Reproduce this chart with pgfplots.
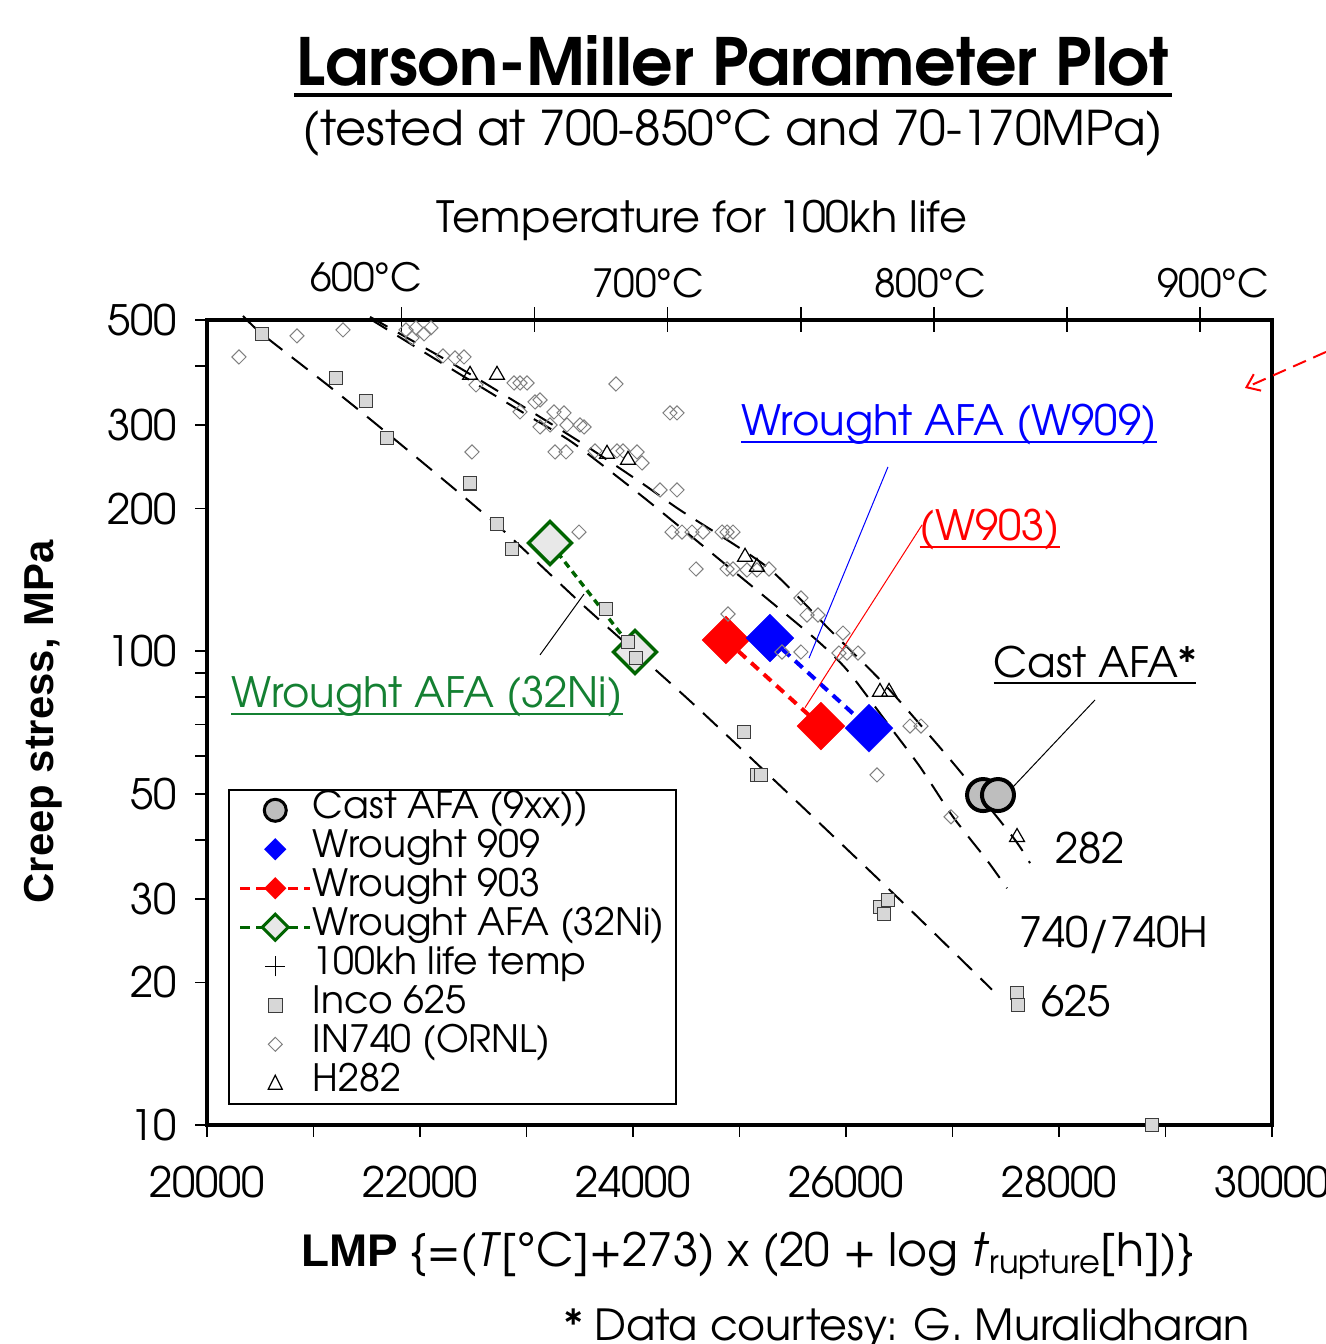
\documentclass[border=0pt]{standalone}
\usepackage{fontspec}
\setmainfont{TeX Gyre Adventor}
\newfontfamily\arialfont{Liberation Sans}
\usepackage{pgfplots}
\pgfplotsset{compat=1.18}
\usetikzlibrary{arrows.meta}

\definecolor{incofill}{RGB}{215,215,215}
\definecolor{incoedge}{RGB}{60,60,60}
\definecolor{ingray}{RGB}{128,128,128}
\definecolor{castfill}{RGB}{190,190,190}
\definecolor{afagreen}{RGB}{0,100,0}
\definecolor{labgreen}{RGB}{20,128,50}
\definecolor{afafill}{RGB}{232,232,232}

\newcommand\fs[1]{\fontsize{#1}{#1}\selectfont}
\newlength\ulw
\newcommand\ul[1]{\settowidth{\ulw}{#1}\rlap{\rule[-3.5bp]{\ulw}{1bp}}#1}

\pgfplotsset{
  curve/.style={black, line width=1bp, dash pattern=on 10bp off 6bp, smooth, tension=0.4, no markers},
  inco/.style={only marks, mark=square*, mark size=3.3bp,
    mark options={fill=incofill, draw=incoedge, line width=0.7bp}},
  in740/.style={only marks, mark=square, mark size=2.5bp,
    mark options={rotate=45, draw=ingray, fill=white, line width=0.5bp}},
  h282/.style={only marks, mark=triangle, mark size=4.3bp,
    mark options={draw=black, fill=white, line width=0.6bp}},
}

\begin{document}
\begin{tikzpicture}
\useasboundingbox (-103.5bp,-109.5bp) rectangle (559.5bp,562.5bp);
\clip (-103.5bp,-109.5bp) rectangle (559.5bp,562.5bp);

% top axis: temperature for 100kh life, LMP = (T+273)*25
\begin{axis}[ymode=log, scale only axis, width=532.5bp, height=402.5bp,
  xmin=20000, xmax=30000, ymin=10, ymax=500, scaled x ticks=false,
  axis x line*=top, axis y line=none,
  xtick={21825,23075,24325,25575,26825,28075,29325},
  xticklabels={}, tick align=center, major tick length=12.5bp,
  tick style={black, line width=0.8bp},
  axis line style={line width=2.2bp}]
\addplot[draw=none] coordinates {(25000,100)};
\end{axis}

\begin{axis}[ymode=log, scale only axis, width=532.5bp, height=402.5bp,
  xmin=20000, xmax=30000, ymin=10, ymax=500, scaled x ticks=false,
  clip=false,
  axis line style={line width=2.2bp},
  tick pos=left, tick align=outside, major tick length=6bp,
  tick style={black, line width=0.8bp},
  xtick={20000,21000,...,30000},
  xticklabels={20000,,22000,,24000,,26000,,28000,,30000},
  ytick={10,20,30,40,50,60,70,80,90,100,200,300,400,500},
  yticklabels={10,20,30,,50,,,,,100,200,300,,500},
  ticklabel style={font=\fs{21}},
  xticklabel style={yshift=-11bp},
  yticklabel style={xshift=-5.5bp},
  legend style={at={(rel axis cs:0.0197,0.4174)}, anchor=north west,
    draw=black, line width=0.8bp, font=\fs{18.9},
    inner xsep=5bp, inner ysep=0.5bp, row sep=0bp,
    nodes={inner sep=0.5bp, text height=13.5bp, text depth=5bp}},
  legend cell align=left,
]
% legend entries
\addlegendimage{legend image code/.code={\draw[black, line width=1.5bp, fill=castfill] (17.5bp,0bp) circle (5.5bp);}}
\addlegendentry{Cast AFA (9xx))}
\addlegendimage{legend image code/.code={\draw[blue, fill=blue] (17.5bp,5bp) -- (22.5bp,0bp) -- (17.5bp,-5bp) -- (12.5bp,0bp) -- cycle;}}
\addlegendentry{Wrought 909}
\addlegendimage{legend image code/.code={\draw[red, line width=1.5bp, dash pattern=on 5bp off 3bp] (0bp,0bp) -- (35bp,0bp);
  \draw[red, fill=red] (17.5bp,5bp) -- (22.5bp,0bp) -- (17.5bp,-5bp) -- (12.5bp,0bp) -- cycle;}}
\addlegendentry{Wrought 903}
\addlegendimage{legend image code/.code={\draw[afagreen, line width=1.5bp, dash pattern=on 5bp off 3bp] (0bp,0bp) -- (35bp,0bp);
  \draw[afagreen, fill=afafill, line width=1.5bp] (17.5bp,6.5bp) -- (24bp,0bp) -- (17.5bp,-6.5bp) -- (11bp,0bp) -- cycle;}}
\addlegendentry{Wrought AFA (32Ni)}
\addlegendimage{legend image code/.code={\draw[black, line width=0.7bp] (12.5bp,0bp) -- (22.5bp,0bp) (17.5bp,-5bp) -- (17.5bp,5bp);}}
\addlegendentry{100kh life temp}
\addlegendimage{legend image code/.code={\draw[incoedge, fill=incofill, line width=0.7bp] (14bp,-3.5bp) rectangle (21bp,3.5bp);}}
\addlegendentry{Inco 625}
\addlegendimage{legend image code/.code={\draw[ingray, fill=white, line width=0.5bp] (17.5bp,3.5bp) -- (21bp,0bp) -- (17.5bp,-3.5bp) -- (14bp,0bp) -- cycle;}}
\addlegendentry{IN740 (ORNL)}
\addlegendimage{legend image code/.code={\draw[black, fill=white, line width=0.6bp] (14bp,-3bp) -- (21bp,-3bp) -- (17.5bp,4bp) -- cycle;}}
\addlegendentry{H282}

% Wrought AFA (32Ni)
\addplot[forget plot, afagreen, line width=1.7bp, dash pattern=on 3.5bp off 2.5bp,
  mark=square*, mark size=7.6bp, mark options={solid, rotate=45, fill=afafill, draw=afagreen, line width=1.7bp}]
  coordinates {(23221,169.2) (24019,99.6)};
% Wrought 903
\addplot[forget plot, red, line width=2bp, dash pattern=on 5bp off 3.5bp,
  mark=square*, mark size=8.5bp, mark options={solid, rotate=45, fill=red, draw=red, line width=0.1bp}]
  coordinates {(24873,105.6) (25765,69.5)};
% Wrought 909
\addplot[forget plot, blue, line width=2bp, dash pattern=on 5bp off 3.5bp,
  mark=square*, mark size=8.5bp, mark options={solid, rotate=45, fill=blue, draw=blue, line width=0.1bp}]
  coordinates {(25286,106.6) (26216,68.8)};
% Cast AFA
\addplot[forget plot, only marks, mark=*, mark size=8bp,
  mark options={fill=castfill, draw=black, line width=2bp}]
  coordinates {(27287,49.7) (27427,49.7)};

% fitted curves: 625, 740/740H, 282
\addplot[forget plot, curve] coordinates {
  (20338,509.9) (20516,467.3) (21155,361.2) (21690,288.7) (22723,184.7)
  (23549,124.0) (24629,75.1) (26413,31.3) (27371,19.3)};
\addplot[forget plot, curve] coordinates {
  (21531,502.5) (22310,392.2) (23005,315.1) (23437,275.1) (24094,211.6)
  (24817,155.8) (25690,107.2) (26009,91.3) (26385,70.6) (26695,57.0)
  (27005,44.7) (27324,36.2) (27512,31.6)};
\addplot[forget plot, curve] coordinates {
  (21531,507.5) (22310,403.8) (23005,324.5) (23531,273.8) (24094,225.4)
  (24441,198.6) (25258,150.6) (25850,110.8) (26385,84.0) (27005,58.1)
  (27568,40.5) (27728,35.7)};

% Inco 625
\addplot[forget plot, inco] coordinates {
  (20516,467.3) (21211,377) (21493,337) (21690,282) (22469,226)
  (22723,185.6) (22864,164.3) (23746,122.8) (23953,104.6) (24028,96.7)
  (25042,67.5) (25164,54.8) (25202,54.8) (26319,28.84) (26394,29.85)
  (26357,27.9) (27606,19.0) (27615,17.9) (28873,10)};
% IN740 (ORNL)
\addplot[forget plot, in740] coordinates {
  (20300,417.8) (20845,462.8) (21277,476.4) (21869,476.4) (21962,481.2)
  (22038,467.3) (22103,481.2) (21925,458.2) (22216,419.9) (22329,415.8)
  (22413,417.8) (23840,366.4) (22883,368.2) (22939,368.2) (23005,368.2)
  (22526,364.7) (22488,263.3) (23127,339.0) (23080,335.7) (22939,319.8)
  (23258,319.8) (23352,318.3) (23221,300.2) (23127,297.3) (23380,300.2)
  (23502,300.2) (23540,297.3) (23268,263.3) (23371,263.3) (23643,264.6)
  (23850,264.6) (23906,264.6) (24038,263.3) (24085,249.6) (24347,318.3)
  (24413,318.3) (23493,178.4) (24254,218.9) (24413,218.9) (24366,178.4)
  (24460,178.4) (24554,178.4) (24657,178.4) (24836,178.4) (24883,178.4)
  (24939,178.4) (24592,149.1) (24883,149.1) (24939,149.1) (25070,148.4)
  (25164,148.4) (25277,149.1) (25577,129.5) (25634,119.2) (25737,119.2)
  (24892,119.8) (25399,99.6) (25577,99.6) (25972,109.2) (25934,99.1)
  (26009,99.1) (26113,99.1) (26601,69.5) (26704,69.5) (26291,54.8)
  (26986,44.7)};
% H282
\addplot[forget plot, h282] coordinates {
  (22470,382.8) (22723,382.8) (23756,260.8) (23953,253.3) (25052,158.1)
  (25164,150.6) (26319,82.0) (26404,82.0) (27606,40.5)};

% call-outs
\draw[blue, line width=0.5bp] (axis cs:26394,244.8) -- (axis cs:25653,96.7);
\draw[red, line width=0.5bp] (axis cs:26714,184.7) -- (axis cs:25615,76);
\draw[black, line width=0.5bp] (axis cs:28338,78.9) -- (axis cs:27540,50.9);
\draw[black, line width=0.5bp] (axis cs:23127,98.2) -- (axis cs:23540,132.0);
\node[blue, font=\fs{21}] at (axis cs:26967,300.2) {\ul{Wrought AFA (W909)}};
\node[red, font=\fs{21}] at (axis cs:27352,180.3) {\ul{(W903)}};
\node[black, font=\fs{21}] at (axis cs:28338,93.5) {\ul{Cast AFA*}};
\node[labgreen, font=\fs{21}] at (axis cs:22066,80.1) {\ul{Wrought AFA (32Ni)}};
\node[font=\fs{21}] at (axis cs:28291,38.4) {282};
\node[font=\fs{21}] at (axis cs:28516,25.2) {740/740H};
\node[font=\fs{21}] at (axis cs:28160,18.3) {625};
\draw[red, line width=1bp, dash pattern=on 7bp off 4bp, -{Straight Barb[length=6bp, width=9bp]}]
  (axis cs:30507,428.1) -- (axis cs:29746,359.4);
\end{axis}

% titles and axis labels
\node[font=\bfseries\fs{32.7}] at (263bp,532bp) {Larson-Miller Parameter Plot};
\draw[line width=2bp] (43.5bp,515bp) -- (482.5bp,515bp);
\node[font=\fs{24}] at (263bp,496bp) {(tested at 700-850°C and 70-170MPa)};
\node[font=\fs{21.6}] at (247.5bp,452.5bp) {Temperature for 100kh life};
\node[font=\fs{19.5}] at (79.5bp,424bp) {600°C};
\node[font=\fs{19.5}] at (220.5bp,421bp) {700°C};
\node[font=\fs{19.5}] at (361.5bp,421bp) {800°C};
\node[font=\fs{19.5}] at (503bp,421bp) {900°C};
\node[font=\arialfont\bfseries\fs{21}, rotate=90] at (-82bp,201.5bp) {Creep stress, MPa};
\node[font=\fs{23}] at (270.5bp,-65.5bp) {{\arialfont\bfseries LMP} \{=(\textit{T}[°C]+273) x (20 + log \textit{t}\textsubscript{rupture}[h])\}};
\node[font=\fs{21.5}, anchor=base west] at (175bp,-107.5bp) {* Data courtesy: G. Muralidharan};
\end{tikzpicture}
\end{document}
